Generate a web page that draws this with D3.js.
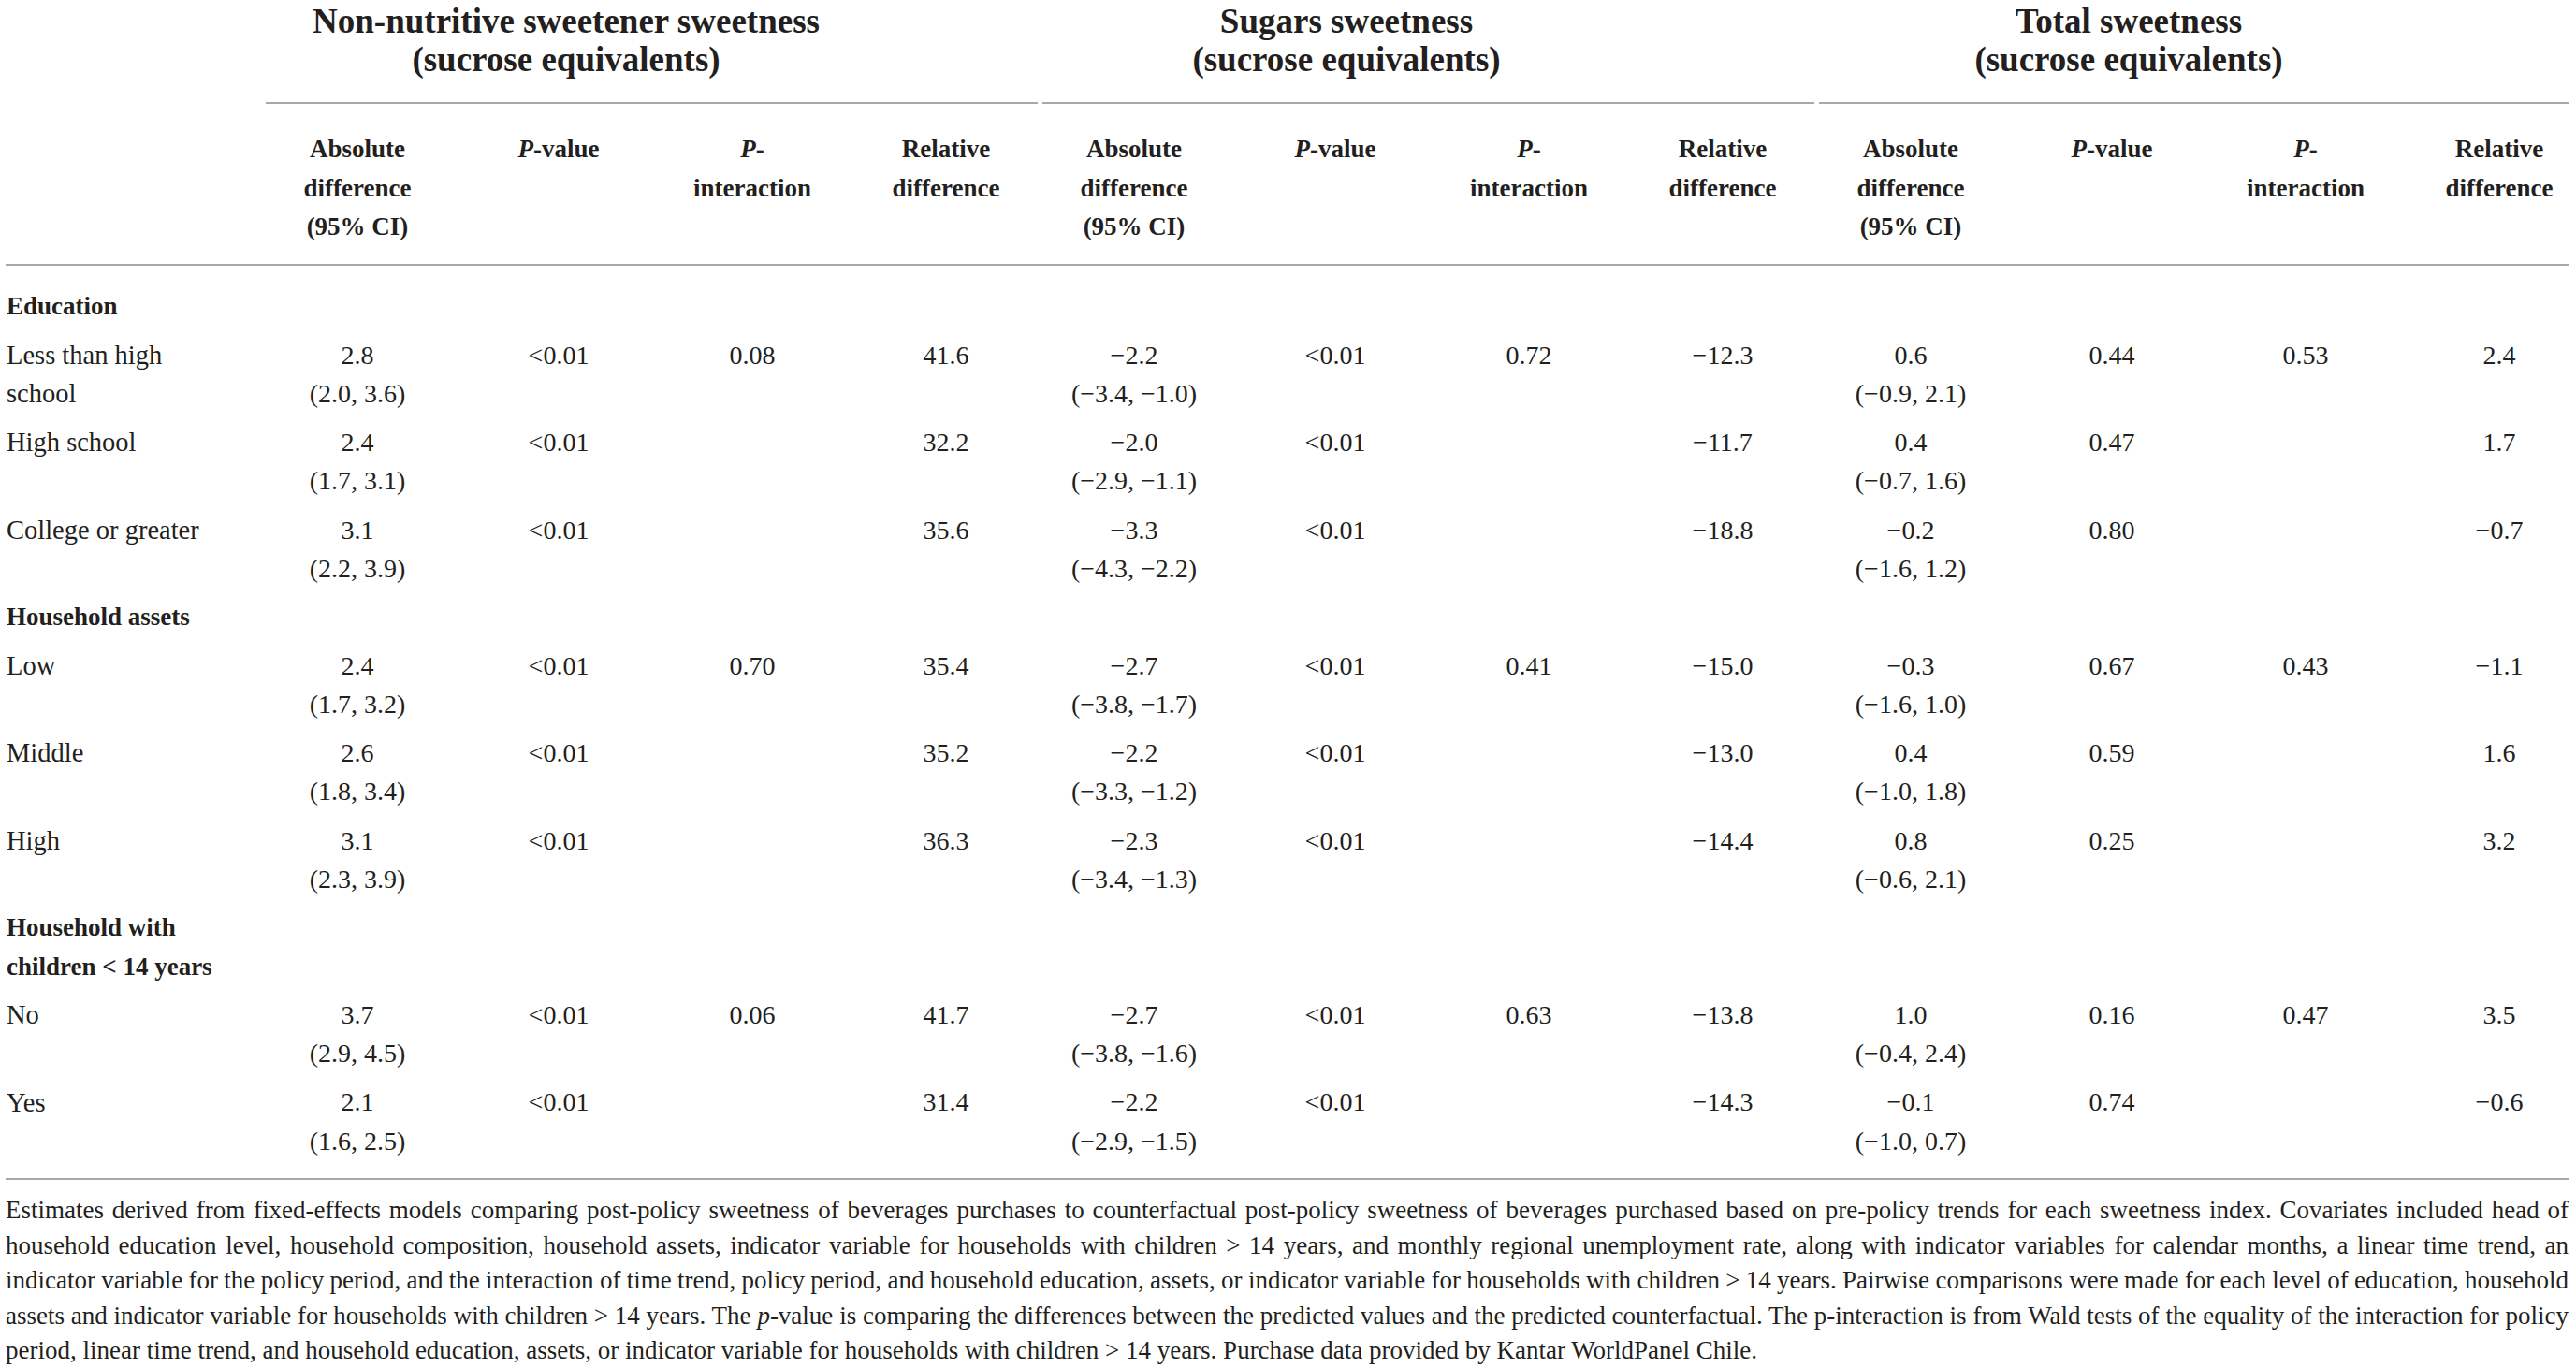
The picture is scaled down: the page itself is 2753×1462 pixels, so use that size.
<!DOCTYPE html>
<html><head><meta charset="utf-8">
<script src="https://cdn.jsdelivr.net/npm/d3@7"></script>
<style>
html,body{margin:0;padding:0;background:#fff;}
svg{display:block;}
text{font-family:"Liberation Serif","Times New Roman",serif;fill:#231f20;}
</style>
</head><body>
<svg id="t" width="2753" height="1462"></svg>
<script>
// ---------- DATA ----------
const groupTitles = ["Non-nutritive sweetener sweetness", "Sugars sweetness", "Total sweetness"];
const groupSubtitle = "(sucrose equivalents)";
const colHeaders = [["Absolute", "difference", "(95% CI)"], ["_P_-value"], ["_P_-", "interaction"], ["Relative", "difference"]];
const sectionLabels = [["Education"], ["Household assets"], ["Household with", "children < 14 years"]];
const rowLabels = [["Less than high", "school"], ["High school"], ["College or greater"], ["Low"], ["Middle"], ["High"], ["No"], ["Yes"]];
const rowSection = [0, 0, 0, 1, 1, 1, 2, 2];

const nnsAbs  = [2.8, 2.4, 3.1, 2.4, 2.6, 3.1, 3.7, 2.1];
const nnsLo   = [2.0, 1.7, 2.2, 1.7, 1.8, 2.3, 2.9, 1.6];
const nnsHi   = [3.6, 3.1, 3.9, 3.2, 3.4, 3.9, 4.5, 2.5];
const nnsP    = ["<0.01", "<0.01", "<0.01", "<0.01", "<0.01", "<0.01", "<0.01", "<0.01"];
const nnsPint = [0.08, null, null, 0.70, null, null, 0.06, null];
const nnsRel  = [41.6, 32.2, 35.6, 35.4, 35.2, 36.3, 41.7, 31.4];

const sugAbs  = [-2.2, -2.0, -3.3, -2.7, -2.2, -2.3, -2.7, -2.2];
const sugLo   = [-3.4, -2.9, -4.3, -3.8, -3.3, -3.4, -3.8, -2.9];
const sugHi   = [-1.0, -1.1, -2.2, -1.7, -1.2, -1.3, -1.6, -1.5];
const sugP    = ["<0.01", "<0.01", "<0.01", "<0.01", "<0.01", "<0.01", "<0.01", "<0.01"];
const sugPint = [0.72, null, null, 0.41, null, null, 0.63, null];
const sugRel  = [-12.3, -11.7, -18.8, -15.0, -13.0, -14.4, -13.8, -14.3];

const totAbs  = [0.6, 0.4, -0.2, -0.3, 0.4, 0.8, 1.0, -0.1];
const totLo   = [-0.9, -0.7, -1.6, -1.6, -1.0, -0.6, -0.4, -1.0];
const totHi   = [2.1, 1.6, 1.2, 1.0, 1.8, 2.1, 2.4, 0.7];
const totP    = [0.44, 0.47, 0.80, 0.67, 0.59, 0.25, 0.16, 0.74];
const totPint = [0.53, null, null, 0.43, null, null, 0.47, null];
const totRel  = [2.4, 1.7, -0.7, -1.1, 1.6, 3.2, 3.5, -0.6];

const footnoteLines = [
  "Estimates derived from fixed-effects models comparing post-policy sweetness of beverages purchases to counterfactual post-policy sweetness of beverages purchased based on pre-policy trends for each sweetness index. Covariates included head of",
  "household education level, household composition, household assets, indicator variable for households with children > 14 years, and monthly regional unemployment rate, along with indicator variables for calendar months, a linear time trend, an",
  "indicator variable for the policy period, and the interaction of time trend, policy period, and household education, assets, or indicator variable for households with children > 14 years. Pairwise comparisons were made for each level of education, household",
  "assets and indicator variable for households with children > 14 years. The _p_-value is comparing the differences between the predicted values and the predicted counterfactual. The p-interaction is from Wald tests of the equality of the interaction for policy",
  "period, linear time trend, and household education, assets, or indicator variable for households with children > 14 years. Purchase data provided by Kantar WorldPanel Chile."
];

// ---------- BUILD ----------
const groups = [
  {abs: nnsAbs, lo: nnsLo, hi: nnsHi, p: nnsP, pint: nnsPint, rel: nnsRel},
  {abs: sugAbs, lo: sugLo, hi: sugHi, p: sugP, pint: sugPint, rel: sugRel},
  {abs: totAbs, lo: totLo, hi: totHi, p: totP, pint: totPint, rel: totRel}
];

const svg = d3.select("#t");
const left = 6, right = 2745;
const ruleColor = "#a8a8a8";

const fmt1 = v => (v < 0 ? "\u2212" : "") + Math.abs(v).toFixed(1);
const fmtP = v => (typeof v === "string") ? v : v.toFixed(2);

function addRich(sel, str) {
  const parts = str.split("_");
  parts.forEach((p, i) => {
    if (!p) return;
    const ts = sel.append("tspan").text(p);
    if (i % 2 === 1) ts.attr("font-style", "italic");
  });
  return sel;
}

// column scales
const groupX = d3.scaleBand().domain([0, 1, 2]).range([284, 284 + 830 * 3]).paddingInner(0).paddingOuter(0);
const colX = d3.scaleOrdinal().domain([0, 1, 2, 3]).range([98, 313, 520, 727]);
const titleCenters = [605, 1439, 2275];

// header vertical scales
const titleY = d3.scaleLinear().domain([0, 1]).range([22, 63]);
const subY = d3.scaleLinear().domain([0, 1]).range([159, 200.5]);

// group titles
groupTitles.forEach((t, g) => {
  const cx = titleCenters[g];
  [t, groupSubtitle].forEach((line, li) => {
    svg.append("text").attr("x", cx).attr("y", titleY(li)).attr("dy", "0.35em")
      .attr("text-anchor", "middle").attr("font-weight", "bold").attr("font-size", 37)
      .text(line);
  });
  svg.append("line")
    .attr("x1", groupX(g)).attr("x2", Math.min(groupX(g) + 825, right))
    .attr("y1", 110).attr("y2", 110)
    .attr("stroke", ruleColor).attr("stroke-width", 2);
  colHeaders.forEach((lines, c) => {
    lines.forEach((line, li) => {
      const te = svg.append("text").attr("x", groupX(g) + colX(c)).attr("y", subY(li)).attr("dy", "0.35em")
        .attr("text-anchor", "middle").attr("font-weight", "bold").attr("font-size", 27);
      addRich(te, line);
    });
  });
});

svg.append("line").attr("x1", left).attr("x2", right).attr("y1", 283).attr("y2", 283)
  .attr("stroke", ruleColor).attr("stroke-width", 2);

// body rows layout
const lineStep = 41.2, blockStep = 52.1;
const gapUnits = blockStep / lineStep;
const yScale = d3.scaleLinear().domain([0, 1]).range([327, 327 + lineStep]);

let u = 0;
const blocks = [];
sectionLabels.forEach((lab, si) => {
  blocks.push({type: "section", lines: lab, start: u});
  u += (lab.length - 1) + gapUnits;
  rowSection.forEach((s, r) => {
    if (s !== si) return;
    blocks.push({type: "row", idx: r, start: u});
    u += 1 + gapUnits;
  });
});

const bodyFont = 28;
const labelFont = 28.5;
blocks.forEach(b => {
  if (b.type === "section") {
    b.lines.forEach((line, li) => {
      svg.append("text").attr("x", 7).attr("y", yScale(b.start + li)).attr("dy", "0.35em")
        .attr("font-weight", "bold").attr("font-size", 27).text(line);
    });
  } else {
    const r = b.idx;
    rowLabels[r].forEach((line, li) => {
      svg.append("text").attr("x", 7).attr("y", yScale(b.start + li)).attr("dy", "0.35em")
        .attr("font-size", labelFont).text(line);
    });
    groups.forEach((G, g) => {
      const gx = groupX(g);
      const cells = [
        {c: 0, l: 0, t: fmt1(G.abs[r])},
        {c: 0, l: 1, t: "(" + fmt1(G.lo[r]) + ", " + fmt1(G.hi[r]) + ")"},
        {c: 1, l: 0, t: fmtP(G.p[r])},
        {c: 2, l: 0, t: G.pint[r] == null ? "" : fmtP(G.pint[r])},
        {c: 3, l: 0, t: fmt1(G.rel[r])}
      ];
      cells.forEach(cell => {
        if (!cell.t) return;
        svg.append("text").attr("x", gx + colX(cell.c)).attr("y", yScale(b.start + cell.l)).attr("dy", "0.35em")
          .attr("text-anchor", "middle").attr("font-size", bodyFont).text(cell.t);
      });
    });
  }
});

const lastBlock = blocks[blocks.length - 1];
const bottomY = yScale(lastBlock.start + 2);
svg.append("line").attr("x1", left).attr("x2", right).attr("y1", bottomY).attr("y2", bottomY)
  .attr("stroke", ruleColor).attr("stroke-width", 2);

// footnote: size chosen so the last (unjustified) line ends where it does in the reference
const footY = d3.scaleLinear().domain([0, 1]).range([bottomY + 33, bottomY + 33 + 37.5]);
const footTargets = [right - left, right - left, right - left, right - left, 1885];
const probe = svg.append("text").attr("font-size", 24).attr("x", -5000).attr("y", -5000);
addRich(probe, footnoteLines[4]);
const footSize = Math.min(27, 24 * 1885 / probe.node().getComputedTextLength());
probe.remove();
footnoteLines.forEach((line, i) => {
  const te = svg.append("text").attr("x", left).attr("y", footY(i)).attr("dy", "0.35em")
    .attr("font-size", footSize);
  addRich(te, line);
  if (i < 4) {
    const nat = te.node().getComputedTextLength();
    const spaces = (line.match(/ /g) || []).length;
    te.style("word-spacing", ((footTargets[i] - nat) / spaces).toFixed(2) + "px");
  }
});
</script>
</body></html>
